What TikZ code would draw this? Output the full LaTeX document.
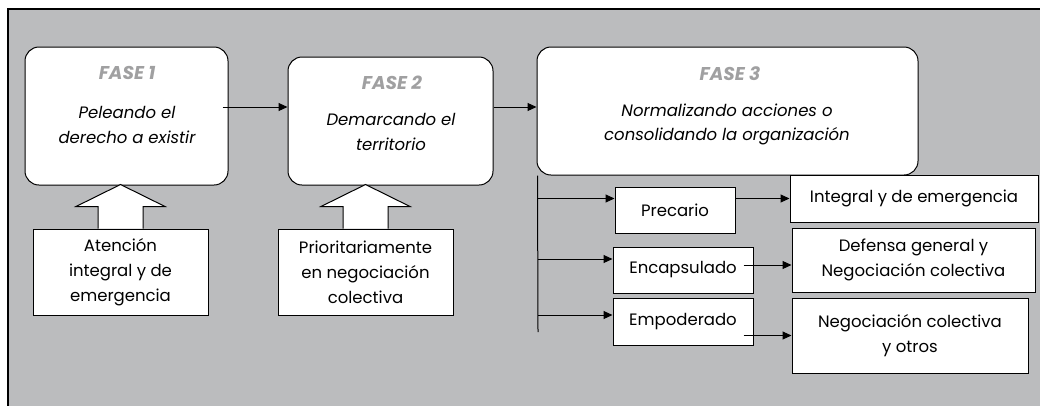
\documentclass[tikz,border=0pt]{standalone}
\usepackage{fontspec}
\setmainfont{Poppins}
\usetikzlibrary{arrows.meta}

\definecolor{panelgray}{RGB}{187,188,190}
\definecolor{titlegray}{RGB}{160,160,161}

\tikzset{
  fasebox/.style={draw, fill=white, rounded corners=14pt, line width=1pt, inner sep=0pt},
  fasetitle/.style={text=titlegray, font=\fontsize{18.5}{20}\selectfont\bfseries\itshape},
  fasetext/.style={align=center, font=\fontsize{16.5}{24.5}\selectfont\itshape},
  plainbox/.style={draw, fill=white, line width=1pt, inner sep=0pt, align=center},
  hollow/.style={draw, fill=white, line width=1pt, line join=miter},
}

\begin{document}
\begin{tikzpicture}[x=1pt, y=-1pt, font=\fontsize{16.5}{25}\selectfont,
    >={Triangle[length=9pt,width=8pt]}, line width=1pt]
  \useasboundingbox (0,0) rectangle (1040,405);

  % Panel
  \fill[panelgray] (8,9) rectangle (1046,411);
  \draw[line width=1.5pt] (1046,9) -- (8,9) -- (8,411);

  % Phases
  \node[fasebox, minimum width=203pt, minimum height=138pt] (f1) at (126.5,116) {};
  \node[fasetitle] (t1) at (127,73) {FASE 1};
  \node[fasetext] (d1) at (127,125) {Peleando el\\derecho a existir};

  \node[fasebox, minimum width=205pt, minimum height=128pt] (f2) at (390.5,121) {};
  \node[fasetitle] (t2) at (392,83) {FASE 2};
  \node[fasetext] (d2) at (391,132) {Demarcando el\\territorio};

  \node[fasebox, minimum width=381pt, minimum height=128pt] (f3) at (727.5,111) {};
  \node[fasetitle] (t3) at (730,74) {FASE 3};
  \node[fasetext] (d3) at (727,124.5) {Normalizando acciones o\\consolidando la organización};

  \draw[->] ([xshift=-6pt,yshift=9pt]f1.east) -- ([yshift=14pt]f2.west);
  \draw[->] ([yshift=14pt]f2.east) -- ([yshift=4pt]f3.west);

  % Supports
  \node[plainbox, minimum width=175pt, minimum height=86pt] (a1) at (120.5,272) {Atención\\integral y de\\emergencia};
  \node[plainbox, minimum width=175pt, minimum height=86pt] (a2) at (365.5,272) {Prioritariamente\\en negociación\\colectiva};

  \draw[hollow] ([xshift=-22.5pt]a1.north) -- ++(0,-22) -- ++(-22,0) -- ++(44.5,-22)
    -- ++(44.5,22) -- ++(-22,0) -- ++(0,22);
  \draw[hollow] ([xshift=-22.5pt]a2.north) -- ++(0,-22) -- ++(-22,0) -- ++(44.5,-22)
    -- ++(44.5,22) -- ++(-22,0) -- ++(0,22);

  % Types of organisation
  \node[plainbox, minimum width=120pt, minimum height=46pt] (pre) at (675,210) {Precario};
  \node[plainbox, minimum width=140pt, minimum height=46pt] (enc) at (683,270) {Encapsulado};
  \node[plainbox, minimum width=140pt, minimum height=47pt] (emp) at (683,321.5) {Empoderado};

  \node[plainbox, minimum width=248pt, minimum height=47pt] (int) at (914,198.5) {Integral y de emergencia};
  \node[plainbox, minimum width=243pt, minimum height=64pt] (def) at (913.5,260) {Defensa general y\\Negociación colectiva};
  \node[plainbox, minimum width=236pt, minimum height=75pt] (neg) at (910,335.5) {Negociación colectiva\\y otros};

  \coordinate (trunk) at (538,332);
  \draw ([xshift=1pt]f3.south west) -- (trunk);
  \draw[->] (trunk |- int.west) -- (int.west -| pre.west);
  \draw[->] (trunk |- enc.west) ++(0,-11) -- ([yshift=11pt]enc.west);
  \draw[->] (trunk |- emp.west) ++(0,-6.5) -- ([yshift=6.5pt]emp.west);

  \draw[->] (int.west -| pre.east) -- (int.west);
  \draw[->] ([yshift=-5pt]def.west -| enc.east) ++(-10,0) -- ([yshift=-5pt]def.west);
  \draw[->] (neg.west -| emp.east) ++(-10,0) -- (neg.west);
\end{tikzpicture}
\end{document}
